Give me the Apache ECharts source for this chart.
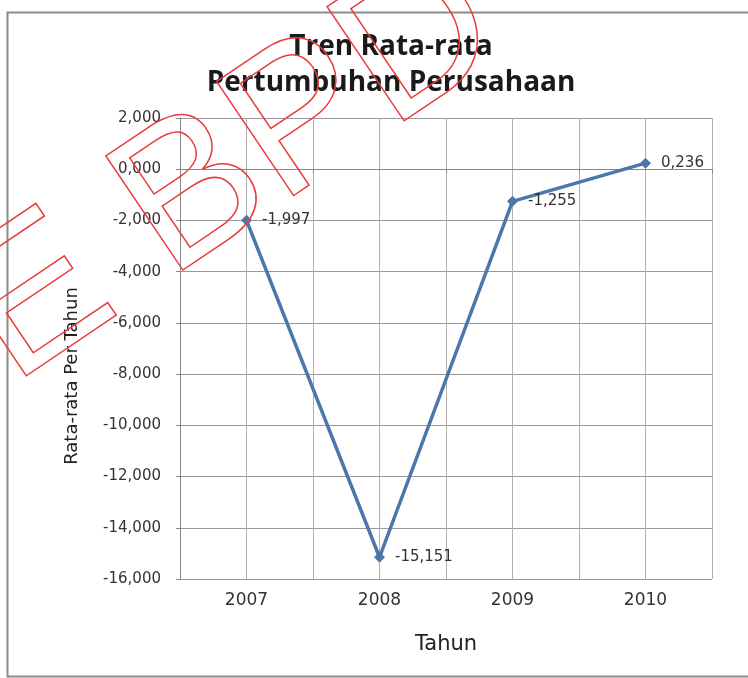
<!DOCTYPE html>
<html><head><meta charset="utf-8">
<script src="https://cdn.jsdelivr.net/npm/echarts@6/dist/echarts.min.js"></script>
<style>html,body{margin:0;padding:0;background:#fff}#c{width:748px;height:678px}</style>
</head><body><div id="c"></div>
<script>
const titleLines = ['Tren Rata-rata', 'Pertumbuhan Perusahaan'];
const xAxisTitle = 'Tahun';
const yAxisTitle = 'Rata-rata Per Tahun';
const categories = ['2007', '2008', '2009', '2010'];
const values = [-1.997, -15.151, -1.255, 0.236];
const yMin = -16, yMax = 2, yStep = 2;
const halfCats = ['a','b','c','d','e','f','g','h'];
const watermark = 'E BPD U';
const fmt = v => v.toFixed(3).replace('.', ',');

const chart = echarts.init(document.getElementById('c'), null, {renderer: 'canvas'});
const ang = 34 * Math.PI / 180;
const wmOrigin = [12, 384];
const wmDrop = 46;
chart.setOption({
  animation: false,
  backgroundColor: '#fff',
  title: {
    text: titleLines.join('\n'), left: 386, top: 24, textAlign: 'center',
    textStyle: {fontFamily: 'Open Sans', fontWeight: 'bold', fontSize: 28, color: '#1a1a1a', lineHeight: 36}
  },
  graphic: [
    {type: 'rect', shape: {x: 7.5, y: 12.5, width: 745, height: 664}, style: {fill: 'none', stroke: '#8c8c8c', lineWidth: 2}, z: -1},
    {type: 'text', x: 72, y: 376, rotation: Math.PI / 2,
     style: {text: yAxisTitle, font: '18px "DejaVu Sans"', fill: '#222', align: 'center', verticalAlign: 'middle'}},
    {type: 'text', x: wmOrigin[0] + wmDrop * Math.sin(ang), y: wmOrigin[1] + wmDrop * Math.cos(ang), rotation: ang,
     style: {text: watermark, font: '200px "Liberation Sans"', fill: 'none', stroke: '#ea3b3b', lineWidth: 1.5, verticalAlign: 'bottom'}, z: 100}
  ],
  grid: {left: 180, right: 36, top: 118, bottom: 99},
  xAxis: [
    {type: 'category', data: categories, boundaryGap: true,
     name: xAxisTitle, nameLocation: 'middle', nameGap: 55,
     nameTextStyle: {fontFamily: 'DejaVu Sans', fontSize: 21, color: '#222'},
     axisLine: {lineStyle: {color: '#888', width: 1}},
     axisTick: {show: true, length: 4, lineStyle: {color: '#888'}},
     axisLabel: {fontFamily: 'DejaVu Sans', fontSize: 17, color: '#333', margin: 13},
     splitLine: {show: false}},
    {type: 'category', data: halfCats, boundaryGap: true, position: 'bottom',
     axisLine: {show: false}, axisTick: {show: false}, axisLabel: {show: false},
     splitLine: {show: true, lineStyle: {color: '#b0b0b0', width: 1}}}
  ],
  yAxis: {
    type: 'value', min: yMin, max: yMax, interval: yStep,
    axisLine: {show: true, lineStyle: {color: '#888'}},
    axisTick: {show: true, length: 4, lineStyle: {color: '#888'}},
    axisLabel: {fontFamily: 'DejaVu Sans', fontSize: 15, color: '#333', margin: 19, formatter: v => fmt(v)},
    splitLine: {show: true, lineStyle: {color: '#999', width: 1}}
  },
  series: [{
    type: 'line', data: values, xAxisIndex: 0,
    symbol: 'diamond', symbolSize: 11,
    lineStyle: {color: '#4a78aa', width: 3.5},
    itemStyle: {color: '#4a78aa'},
    label: {show: true, position: 'right', distance: 10, formatter: p => fmt(p.value),
            fontFamily: 'DejaVu Sans', fontSize: 15, color: '#333'}
  }]
});
</script></body></html>
